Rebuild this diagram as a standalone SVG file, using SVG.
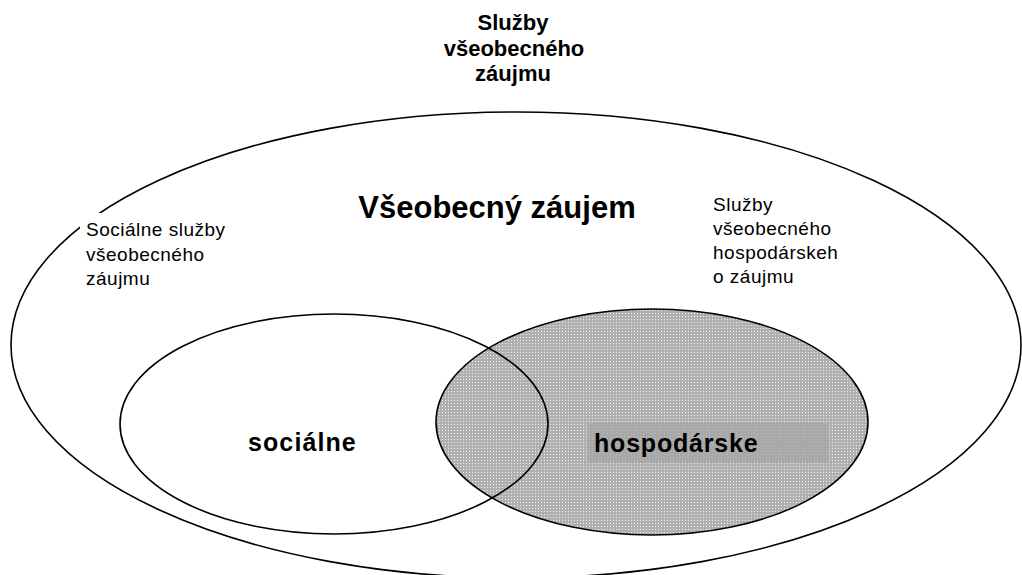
<svg xmlns="http://www.w3.org/2000/svg" width="1022" height="575" viewBox="0 0 1022 575">
<style>
.line{fill:none;stroke:#000;stroke-width:1.6}
.b{font-family:"Liberation Sans",Arial,sans-serif;font-weight:bold;fill:#000}
.r{font-family:"Liberation Sans",Arial,sans-serif;fill:#000;font-size:19px;letter-spacing:0.5px}
</style>
<defs>
<pattern id="dots" width="3" height="3" patternUnits="userSpaceOnUse">
<rect width="3" height="3" fill="#b0b0b0"/>
<rect x="1" y="1" width="1" height="1" fill="#eeeeee"/>
</pattern>
</defs>
<rect width="1022" height="575" fill="#fff"/>
<g id="top-title">
<text class="b" font-size="22" text-anchor="middle" x="513" y="30">Služby</text>
<text class="b" font-size="22" text-anchor="middle" x="514" y="56">všeobecného</text>
<text class="b" font-size="22" text-anchor="middle" x="513" y="81">záujmu</text>
</g>
<g id="general-interest">
<ellipse class="line" cx="516" cy="345" rx="505" ry="233" fill="#fff"/>
<text class="b" font-size="31" text-anchor="middle" x="497" y="218">Všeobecný záujem</text>
</g>
<g id="label-social">
<rect x="80" y="213" width="154" height="80" fill="#fff"/>
<text class="r" x="86" y="236">Sociálne služby</text>
<text class="r" x="86" y="261">všeobecného</text>
<text class="r" x="86" y="285">záujmu</text>
</g>
<g id="label-economic">
<text class="r" x="713" y="211">Služby</text>
<text class="r" x="713" y="235">všeobecného</text>
<text class="r" x="713" y="259">hospodárskeh</text>
<text class="r" x="713" y="283">o záujmu</text>
</g>
<g id="economic">
<ellipse cx="652" cy="422" rx="216" ry="113" fill="url(#dots)" stroke="#000" stroke-width="1.6"/>
<rect x="587" y="423" width="242" height="40" fill="#a5a5a5" opacity="0.7"/>
<text class="b" font-size="25" x="594" y="452" letter-spacing="0.8">hospodárske</text>
</g>
<g id="social">
<ellipse class="line" cx="334" cy="424" rx="214" ry="110" stroke="#1a1a1a"/>
<text class="b" font-size="25" x="248" y="451" letter-spacing="1.1">sociálne</text>
</g>
<g id="connectors"/>
</svg>
